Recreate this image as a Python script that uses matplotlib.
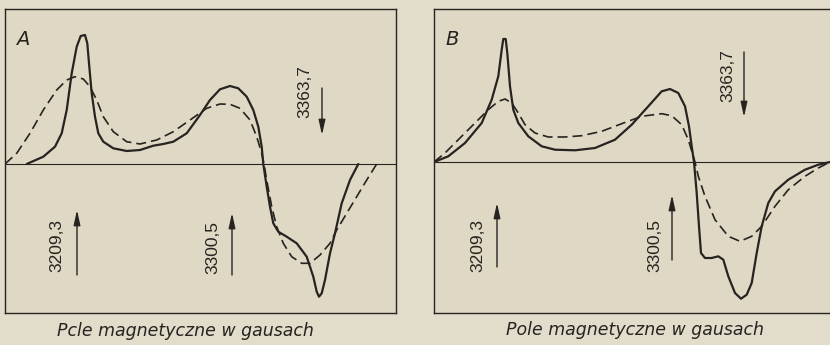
import matplotlib.pyplot as plt

# EPR-like spectra (x: field position, y: signal above baseline)
A_SOLID_X = [21.7, 38.3, 50, 56.7, 61.7, 66.7, 71.7, 75.7, 80, 82.3, 84.3, 86.7, 90, 93.3,
             98.3, 108.3, 121.7, 135, 148.3, 158.3, 168.3, 181.7, 195, 205, 215, 225,
             233.3, 241.7, 248.3, 253.3, 256.7, 258.3, 261.7, 265, 268.3, 273.3, 281.7,
             291.7, 301.7, 308.3, 311.7, 314, 316.7, 320, 325, 330, 336.7, 345, 353.3]
A_SOLID_Y = [0, 7.3, 17.3, 30.7, 54, 90.7, 117.3, 128, 129, 120.7, 97.3, 70.7, 47.3, 30.7,
             22.3, 15.7, 13, 14, 18.3, 20, 22.3, 30.7, 49, 64, 74.7, 78,
             75.7, 67.3, 54, 37.3, 17.3, 0, -22.7, -42.7, -59.3, -67.7, -72.7,
             -79.3, -92.7, -112.7, -127.7, -132.7, -129.3, -116, -89.3, -69.3, -39.3, -16, 0]

A_DASH_X = [0, 11.7, 25, 38.3, 51.7, 61.7, 70, 78.3, 85, 91.7, 98.3, 108.3, 121.7, 135,
            151.7, 168.3, 185, 201.7, 215, 225, 235, 245, 251.7, 256.7, 259, 261.7, 266.7,
            271.7, 278.3, 286.7, 296.7, 305, 315, 325, 331.7, 341.7, 351.7, 361.7, 371.7]
A_DASH_Y = [0, 10.7, 30.7, 54, 74, 84, 87.3, 85, 77.3, 64, 47.3, 32.3, 22.3, 20,
            24, 32.3, 44, 55.7, 60, 59.7, 55.7, 44, 27.3, 10.7, 0, -16, -42.7,
            -62.7, -79.3, -92.7, -99.3, -99.3, -91, -79.3, -66, -49.3, -32.7, -16, 0]

B_SOLID_X = [0, 14.3, 31, 47.7, 57.7, 64.3, 67.7, 69.3, 71.7, 73.3, 76, 79.3, 84.3, 94.3,
             107.7, 121, 141, 161, 181, 197.7, 214.3, 227.7, 236, 244.3, 251, 255, 257.7,
             260, 262.7, 265, 267, 271, 277.7, 284.3, 289.3, 294.3, 301, 307, 312.7, 317.7,
             322.7, 327.7, 334.3, 341, 354.3, 371, 384.3, 396]
B_SOLID_Y = [0, 5.7, 19, 39, 62.3, 85.7, 112.3, 123, 123, 109, 75.7, 52.3, 39, 25.7,
             15.7, 12.3, 11.7, 14, 22.3, 37.3, 55.7, 70.7, 73, 69, 55.7, 35.7, 15.7,
             0, -31, -64.3, -91, -96, -96, -94.3, -97.7, -114.3, -131, -136.7, -132.7, -121,
             -91, -64.3, -41, -29.3, -17.7, -7.7, -2.7, 0]

B_DASH_X = [0, 11, 24.3, 41, 54.3, 64.3, 71, 77.7, 84.3, 91, 101, 114.3, 131, 147.7,
            167.7, 187.7, 207.7, 227.7, 237.7, 247.7, 254.3, 259.3, 261, 264.3, 271, 281,
            294.3, 306, 317.7, 327.7, 341, 354.3, 371, 384.3, 396]
B_DASH_Y = [0, 9, 22.3, 39, 52.3, 60.7, 63, 59, 49, 37.3, 29, 25, 25, 26.3,
            30.7, 38.3, 45.7, 48.3, 46.3, 37.3, 22.3, 5.7, 0, -14.3, -34.3, -57.7,
            -74.3, -79.3, -74.3, -64.3, -44.3, -27.7, -14.3, -6, 0]

FIELD_LABELS = ["3209,3", "3300,5", "3363,7"]

# arrow positions per panel: (x, y_tail, y_head) and text centre (x, y)
A_ARROWS = [(72, -111, -46), (227, -111, -49), (317, 76, 29)]
A_TEXTS = [(52, -81), (208, -83), (300, 72)]
B_ARROWS = [(63, -105, -41), (238, -98, -33), (310, 110, 45)]
B_TEXTS = [(44, -83), (221, -84), (294, 86)]

INK = "#262320"
PAPER = "#e2dccb"
PANEL = "#dfd8c4"

W, H = 830, 345
fig = plt.figure(figsize=(W / 100, H / 100), dpi=100, facecolor=PAPER)


def make_panel(rect, xmax, ymin, ymax):
    ax = fig.add_axes(rect)
    ax.set_facecolor(PANEL)
    ax.set_xlim(0, xmax)
    ax.set_ylim(ymin, ymax)
    ax.set_xticks([])
    ax.set_yticks([])
    for s in ax.spines.values():
        s.set_color(INK)
        s.set_linewidth(1.0)
    ax.axhline(0, color=INK, lw=0.8)
    return ax


def draw(ax, sx, sy, dx, dy, arrows, texts, letter):
    ax.plot(sx, sy, color=INK, lw=1.6, solid_joinstyle="round", solid_capstyle="round")
    ax.plot(dx, dy, color=INK, lw=1.2, dashes=(6, 3))
    for (x, y0, y1), (tx, ty), lab in zip(arrows, texts, FIELD_LABELS):
        ax.annotate("", xy=(x, y1), xytext=(x, y0),
                    arrowprops=dict(arrowstyle="-|>,head_length=0.9,head_width=0.2",
                                    color=INK, lw=1.0, shrinkA=0, shrinkB=0))
        ax.text(tx, ty, lab, rotation=90, ha="center", va="center", fontsize=12.5,
                color=INK, family=["Liberation Sans", "DejaVu Sans"])
    ax.text(0.045, 0.9, letter, transform=ax.transAxes, fontsize=14, style="italic",
            color=INK, ha="center", va="center")


# panel A: border x 5..396, y 9..313, baseline at 164
axA = make_panel([5 / W, 1 - 313 / H, 391 / W, 304 / H], 391, -149, 155)
draw(axA, A_SOLID_X, A_SOLID_Y, A_DASH_X, A_DASH_Y, A_ARROWS, A_TEXTS, "A")

# panel B: border x 434..830 (cut off), y 9..313, baseline at 162
axB = make_panel([434 / W, 1 - 313 / H, 400 / W, 304 / H], 400, -151, 153)
axB.spines["right"].set_visible(False)
draw(axB, B_SOLID_X, B_SOLID_Y, B_DASH_X, B_DASH_Y, B_ARROWS, B_TEXTS, "B")

fig.text(185 / W, 1 - 331 / H, "Pcle magnetyczne w gausach", ha="center", va="center",
         fontsize=12.5, style="italic", color=INK)
fig.text(635 / W, 1 - 330 / H, "Pole magnetyczne w gausach", ha="center", va="center",
         fontsize=12.5, style="italic", color=INK)

plt.savefig("out.png", dpi=100, facecolor=PAPER)
plt.close()
